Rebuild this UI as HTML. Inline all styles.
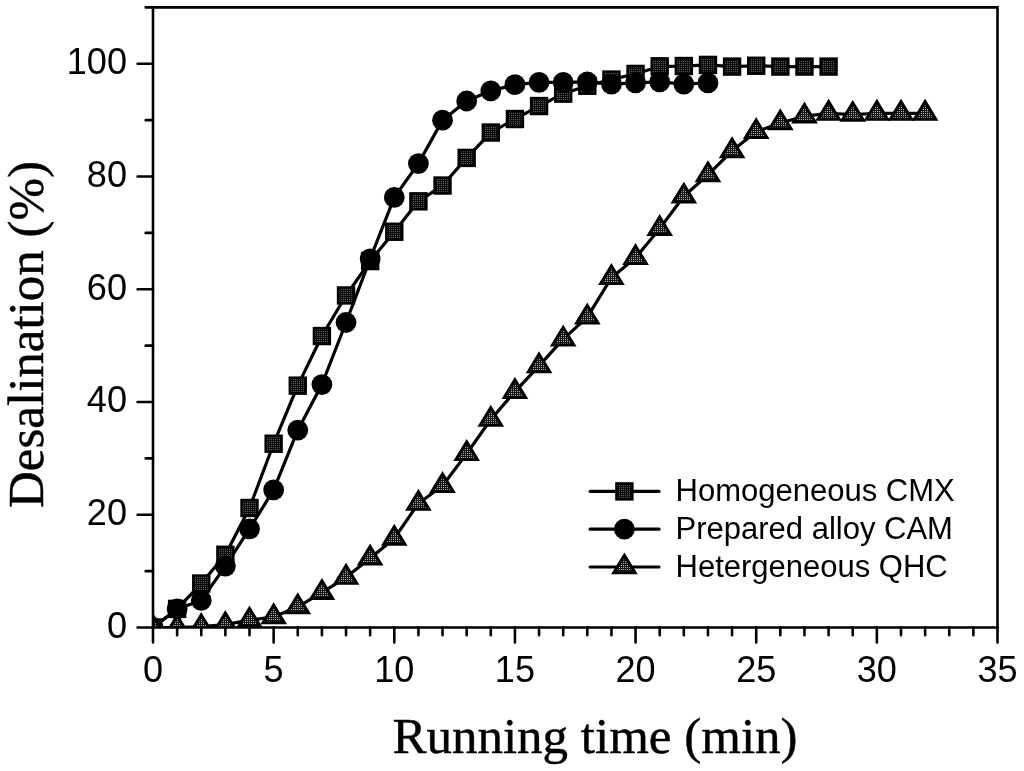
<!DOCTYPE html>
<html><head><meta charset="utf-8"><title>Desalination chart</title>
<style>
html,body{margin:0;padding:0;background:#fff;width:1024px;height:771px;overflow:hidden}
svg{display:block;will-change:transform}
text{font-family:"Liberation Sans",sans-serif;fill:#000}
.serif{font-family:"Liberation Serif",serif;stroke:#000;stroke-width:0.45px}
</style></head><body>
<svg width="1024" height="771" viewBox="0 0 1024 771">
<defs>
<pattern id="pSq" x="0" y="0" width="2" height="2" patternUnits="userSpaceOnUse">
<rect width="2" height="2" fill="#0c0c0c"/><rect x="1" y="1" width="1" height="1" fill="#5c5c5c"/>
</pattern>
<pattern id="pTr" x="0" y="0" width="2" height="2" patternUnits="userSpaceOnUse">
<rect width="2" height="2" fill="#151515"/><rect x="1" y="1" width="1" height="1" fill="#b0b0b0"/>
</pattern>
<clipPath id="plot"><rect x="153" y="7.4" width="844.5" height="620.1"/></clipPath>
</defs>
<rect width="1024" height="771" fill="#fff"/>

<path d="M137.6 627.5H153M145.7 571.13H153M137.6 514.75H153M145.7 458.38H153M137.6 402.01H153M145.7 345.64H153M137.6 289.26H153M145.7 232.89H153M137.6 176.52H153M145.7 120.15H153M137.6 63.77H153M145.7 7.4H153M153 627.5V642.5M177.13 627.5V635.3M201.26 627.5V635.3M225.39 627.5V635.3M249.51 627.5V635.3M273.64 627.5V642.5M297.77 627.5V635.3M321.9 627.5V635.3M346.03 627.5V635.3M370.16 627.5V635.3M394.29 627.5V642.5M418.41 627.5V635.3M442.54 627.5V635.3M466.67 627.5V635.3M490.8 627.5V635.3M514.93 627.5V642.5M539.06 627.5V635.3M563.19 627.5V635.3M587.31 627.5V635.3M611.44 627.5V635.3M635.57 627.5V642.5M659.7 627.5V635.3M683.83 627.5V635.3M707.96 627.5V635.3M732.09 627.5V635.3M756.21 627.5V642.5M780.34 627.5V635.3M804.47 627.5V635.3M828.6 627.5V635.3M852.73 627.5V635.3M876.86 627.5V642.5M900.99 627.5V635.3M925.11 627.5V635.3M949.24 627.5V635.3M973.37 627.5V635.3M997.5 627.5V642.5" stroke="#000" stroke-width="2.6" stroke-linecap="round" fill="none"/>
<g clip-path="url(#plot)">
<polyline points="153,627.5 177.13,608.9 201.26,583.53 225.39,554.78 249.51,507.99 273.64,443.72 297.77,385.66 321.9,336.05 346.03,295.46 370.16,261.08 394.29,231.76 418.41,201.32 442.54,185.54 466.67,157.92 490.8,132.55 514.93,119.02 539.06,106.05 563.19,93.65 587.31,85.76 611.44,79.56 635.57,73.92 659.7,66.31 683.83,66.03 707.96,64.9 732.09,66.59 756.21,65.75 780.34,66.59 804.47,66.59 828.6,66.59" fill="none" stroke="#000" stroke-width="3.2" stroke-linejoin="round"/>
<polyline points="153,627.5 177.13,627.5 201.26,626.65 225.39,624.68 249.51,620.17 273.64,616.79 297.77,606.92 321.9,592.55 346.03,577.33 370.16,558.16 394.29,538.43 418.41,503.48 442.54,485.72 466.67,453.59 490.8,419.48 514.93,391.58 539.06,365.93 563.19,339.15 587.31,317.17 611.44,277.71 635.57,257.69 659.7,228.66 683.83,196.25 707.96,174.83 732.09,150.87 756.21,131.7 780.34,122.96 804.47,116.2 828.6,113.38 852.73,114.51 876.86,113.38 900.99,113.38 925.11,113.38" fill="none" stroke="#000" stroke-width="3.2" stroke-linejoin="round"/>
<polyline points="153,627.5 177.13,608.9 201.26,600.44 225.39,566.05 249.51,528.85 273.64,489.95 297.77,430.2 321.9,384.53 346.03,322.52 370.16,258.82 394.29,197.38 418.41,163.55 442.54,120.15 466.67,100.98 490.8,90.83 514.93,84.63 539.06,82.38 563.19,82.38 587.31,81.81 611.44,84.07 635.57,82.94 659.7,81.81 683.83,84.07 707.96,82.94" fill="none" stroke="#000" stroke-width="3.2" stroke-linejoin="round"/>
<rect x="145.1" y="619.6" width="15.8" height="15.8" fill="url(#pSq)" stroke="#000" stroke-width="2.6"/>
<rect x="169.23" y="601" width="15.8" height="15.8" fill="url(#pSq)" stroke="#000" stroke-width="2.6"/>
<rect x="193.36" y="575.63" width="15.8" height="15.8" fill="url(#pSq)" stroke="#000" stroke-width="2.6"/>
<rect x="217.49" y="546.88" width="15.8" height="15.8" fill="url(#pSq)" stroke="#000" stroke-width="2.6"/>
<rect x="241.61" y="500.09" width="15.8" height="15.8" fill="url(#pSq)" stroke="#000" stroke-width="2.6"/>
<rect x="265.74" y="435.82" width="15.8" height="15.8" fill="url(#pSq)" stroke="#000" stroke-width="2.6"/>
<rect x="289.87" y="377.76" width="15.8" height="15.8" fill="url(#pSq)" stroke="#000" stroke-width="2.6"/>
<rect x="314" y="328.15" width="15.8" height="15.8" fill="url(#pSq)" stroke="#000" stroke-width="2.6"/>
<rect x="338.13" y="287.56" width="15.8" height="15.8" fill="url(#pSq)" stroke="#000" stroke-width="2.6"/>
<rect x="362.26" y="253.18" width="15.8" height="15.8" fill="url(#pSq)" stroke="#000" stroke-width="2.6"/>
<rect x="386.39" y="223.86" width="15.8" height="15.8" fill="url(#pSq)" stroke="#000" stroke-width="2.6"/>
<rect x="410.51" y="193.42" width="15.8" height="15.8" fill="url(#pSq)" stroke="#000" stroke-width="2.6"/>
<rect x="434.64" y="177.64" width="15.8" height="15.8" fill="url(#pSq)" stroke="#000" stroke-width="2.6"/>
<rect x="458.77" y="150.02" width="15.8" height="15.8" fill="url(#pSq)" stroke="#000" stroke-width="2.6"/>
<rect x="482.9" y="124.65" width="15.8" height="15.8" fill="url(#pSq)" stroke="#000" stroke-width="2.6"/>
<rect x="507.03" y="111.12" width="15.8" height="15.8" fill="url(#pSq)" stroke="#000" stroke-width="2.6"/>
<rect x="531.16" y="98.15" width="15.8" height="15.8" fill="url(#pSq)" stroke="#000" stroke-width="2.6"/>
<rect x="555.29" y="85.75" width="15.8" height="15.8" fill="url(#pSq)" stroke="#000" stroke-width="2.6"/>
<rect x="579.41" y="77.86" width="15.8" height="15.8" fill="url(#pSq)" stroke="#000" stroke-width="2.6"/>
<rect x="603.54" y="71.66" width="15.8" height="15.8" fill="url(#pSq)" stroke="#000" stroke-width="2.6"/>
<rect x="627.67" y="66.02" width="15.8" height="15.8" fill="url(#pSq)" stroke="#000" stroke-width="2.6"/>
<rect x="651.8" y="58.41" width="15.8" height="15.8" fill="url(#pSq)" stroke="#000" stroke-width="2.6"/>
<rect x="675.93" y="58.13" width="15.8" height="15.8" fill="url(#pSq)" stroke="#000" stroke-width="2.6"/>
<rect x="700.06" y="57" width="15.8" height="15.8" fill="url(#pSq)" stroke="#000" stroke-width="2.6"/>
<rect x="724.19" y="58.69" width="15.8" height="15.8" fill="url(#pSq)" stroke="#000" stroke-width="2.6"/>
<rect x="748.31" y="57.85" width="15.8" height="15.8" fill="url(#pSq)" stroke="#000" stroke-width="2.6"/>
<rect x="772.44" y="58.69" width="15.8" height="15.8" fill="url(#pSq)" stroke="#000" stroke-width="2.6"/>
<rect x="796.57" y="58.69" width="15.8" height="15.8" fill="url(#pSq)" stroke="#000" stroke-width="2.6"/>
<rect x="820.7" y="58.69" width="15.8" height="15.8" fill="url(#pSq)" stroke="#000" stroke-width="2.6"/>
<circle cx="153" cy="627.5" r="10.4" fill="#000"/>
<circle cx="177.13" cy="608.9" r="10.4" fill="#000"/>
<circle cx="201.26" cy="600.44" r="10.4" fill="#000"/>
<circle cx="225.39" cy="566.05" r="10.4" fill="#000"/>
<circle cx="249.51" cy="528.85" r="10.4" fill="#000"/>
<circle cx="273.64" cy="489.95" r="10.4" fill="#000"/>
<circle cx="297.77" cy="430.2" r="10.4" fill="#000"/>
<circle cx="321.9" cy="384.53" r="10.4" fill="#000"/>
<circle cx="346.03" cy="322.52" r="10.4" fill="#000"/>
<circle cx="370.16" cy="258.82" r="10.4" fill="#000"/>
<circle cx="394.29" cy="197.38" r="10.4" fill="#000"/>
<circle cx="418.41" cy="163.55" r="10.4" fill="#000"/>
<circle cx="442.54" cy="120.15" r="10.4" fill="#000"/>
<circle cx="466.67" cy="100.98" r="10.4" fill="#000"/>
<circle cx="490.8" cy="90.83" r="10.4" fill="#000"/>
<circle cx="514.93" cy="84.63" r="10.4" fill="#000"/>
<circle cx="539.06" cy="82.38" r="10.4" fill="#000"/>
<circle cx="563.19" cy="82.38" r="10.4" fill="#000"/>
<circle cx="587.31" cy="81.81" r="10.4" fill="#000"/>
<circle cx="611.44" cy="84.07" r="10.4" fill="#000"/>
<circle cx="635.57" cy="82.94" r="10.4" fill="#000"/>
<circle cx="659.7" cy="81.81" r="10.4" fill="#000"/>
<circle cx="683.83" cy="84.07" r="10.4" fill="#000"/>
<circle cx="707.96" cy="82.94" r="10.4" fill="#000"/>
<path d="M153 615.77L163.7 633.37L142.3 633.37Z" fill="url(#pTr)" stroke="#000" stroke-width="3.0" stroke-linejoin="miter"/>
<path d="M177.13 615.77L187.83 633.37L166.43 633.37Z" fill="url(#pTr)" stroke="#000" stroke-width="3.0" stroke-linejoin="miter"/>
<path d="M201.26 614.92L211.96 632.52L190.56 632.52Z" fill="url(#pTr)" stroke="#000" stroke-width="3.0" stroke-linejoin="miter"/>
<path d="M225.39 612.95L236.09 630.55L214.69 630.55Z" fill="url(#pTr)" stroke="#000" stroke-width="3.0" stroke-linejoin="miter"/>
<path d="M249.51 608.44L260.21 626.04L238.81 626.04Z" fill="url(#pTr)" stroke="#000" stroke-width="3.0" stroke-linejoin="miter"/>
<path d="M273.64 605.06L284.34 622.66L262.94 622.66Z" fill="url(#pTr)" stroke="#000" stroke-width="3.0" stroke-linejoin="miter"/>
<path d="M297.77 595.19L308.47 612.79L287.07 612.79Z" fill="url(#pTr)" stroke="#000" stroke-width="3.0" stroke-linejoin="miter"/>
<path d="M321.9 580.82L332.6 598.42L311.2 598.42Z" fill="url(#pTr)" stroke="#000" stroke-width="3.0" stroke-linejoin="miter"/>
<path d="M346.03 565.59L356.73 583.19L335.33 583.19Z" fill="url(#pTr)" stroke="#000" stroke-width="3.0" stroke-linejoin="miter"/>
<path d="M370.16 546.43L380.86 564.03L359.46 564.03Z" fill="url(#pTr)" stroke="#000" stroke-width="3.0" stroke-linejoin="miter"/>
<path d="M394.29 526.7L404.99 544.3L383.59 544.3Z" fill="url(#pTr)" stroke="#000" stroke-width="3.0" stroke-linejoin="miter"/>
<path d="M418.41 491.75L429.11 509.35L407.71 509.35Z" fill="url(#pTr)" stroke="#000" stroke-width="3.0" stroke-linejoin="miter"/>
<path d="M442.54 473.99L453.24 491.59L431.84 491.59Z" fill="url(#pTr)" stroke="#000" stroke-width="3.0" stroke-linejoin="miter"/>
<path d="M466.67 441.86L477.37 459.46L455.97 459.46Z" fill="url(#pTr)" stroke="#000" stroke-width="3.0" stroke-linejoin="miter"/>
<path d="M490.8 407.75L501.5 425.35L480.1 425.35Z" fill="url(#pTr)" stroke="#000" stroke-width="3.0" stroke-linejoin="miter"/>
<path d="M514.93 379.85L525.63 397.45L504.23 397.45Z" fill="url(#pTr)" stroke="#000" stroke-width="3.0" stroke-linejoin="miter"/>
<path d="M539.06 354.2L549.76 371.8L528.36 371.8Z" fill="url(#pTr)" stroke="#000" stroke-width="3.0" stroke-linejoin="miter"/>
<path d="M563.19 327.42L573.89 345.02L552.49 345.02Z" fill="url(#pTr)" stroke="#000" stroke-width="3.0" stroke-linejoin="miter"/>
<path d="M587.31 305.43L598.01 323.03L576.61 323.03Z" fill="url(#pTr)" stroke="#000" stroke-width="3.0" stroke-linejoin="miter"/>
<path d="M611.44 265.97L622.14 283.57L600.74 283.57Z" fill="url(#pTr)" stroke="#000" stroke-width="3.0" stroke-linejoin="miter"/>
<path d="M635.57 245.96L646.27 263.56L624.87 263.56Z" fill="url(#pTr)" stroke="#000" stroke-width="3.0" stroke-linejoin="miter"/>
<path d="M659.7 216.93L670.4 234.53L649 234.53Z" fill="url(#pTr)" stroke="#000" stroke-width="3.0" stroke-linejoin="miter"/>
<path d="M683.83 184.52L694.53 202.12L673.13 202.12Z" fill="url(#pTr)" stroke="#000" stroke-width="3.0" stroke-linejoin="miter"/>
<path d="M707.96 163.09L718.66 180.69L697.26 180.69Z" fill="url(#pTr)" stroke="#000" stroke-width="3.0" stroke-linejoin="miter"/>
<path d="M732.09 139.14L742.79 156.74L721.39 156.74Z" fill="url(#pTr)" stroke="#000" stroke-width="3.0" stroke-linejoin="miter"/>
<path d="M756.21 119.97L766.91 137.57L745.51 137.57Z" fill="url(#pTr)" stroke="#000" stroke-width="3.0" stroke-linejoin="miter"/>
<path d="M780.34 111.23L791.04 128.83L769.64 128.83Z" fill="url(#pTr)" stroke="#000" stroke-width="3.0" stroke-linejoin="miter"/>
<path d="M804.47 104.47L815.17 122.07L793.77 122.07Z" fill="url(#pTr)" stroke="#000" stroke-width="3.0" stroke-linejoin="miter"/>
<path d="M828.6 101.65L839.3 119.25L817.9 119.25Z" fill="url(#pTr)" stroke="#000" stroke-width="3.0" stroke-linejoin="miter"/>
<path d="M852.73 102.77L863.43 120.37L842.03 120.37Z" fill="url(#pTr)" stroke="#000" stroke-width="3.0" stroke-linejoin="miter"/>
<path d="M876.86 101.65L887.56 119.25L866.16 119.25Z" fill="url(#pTr)" stroke="#000" stroke-width="3.0" stroke-linejoin="miter"/>
<path d="M900.99 101.65L911.69 119.25L890.29 119.25Z" fill="url(#pTr)" stroke="#000" stroke-width="3.0" stroke-linejoin="miter"/>
<path d="M925.11 101.65L935.81 119.25L914.41 119.25Z" fill="url(#pTr)" stroke="#000" stroke-width="3.0" stroke-linejoin="miter"/>
</g>
<path d="M153 627.5V7.4 H997.5 V627.5 Z" fill="none" stroke="#000" stroke-width="2.6" stroke-linejoin="miter"/>
<text transform="translate(127 637.8) scale(0.965 1)" font-size="37.4" text-anchor="end">0</text>
<text transform="translate(127 525.05) scale(0.965 1)" font-size="37.4" text-anchor="end">20</text>
<text transform="translate(127 412.31) scale(0.965 1)" font-size="37.4" text-anchor="end">40</text>
<text transform="translate(127 299.56) scale(0.965 1)" font-size="37.4" text-anchor="end">60</text>
<text transform="translate(127 186.82) scale(0.965 1)" font-size="37.4" text-anchor="end">80</text>
<text transform="translate(127 74.07) scale(0.965 1)" font-size="37.4" text-anchor="end">100</text>
<text transform="translate(153 682.3) scale(0.965 1)" font-size="37.4" text-anchor="middle">0</text>
<text transform="translate(273.64 682.3) scale(0.965 1)" font-size="37.4" text-anchor="middle">5</text>
<text transform="translate(394.29 682.3) scale(0.965 1)" font-size="37.4" text-anchor="middle">10</text>
<text transform="translate(514.93 682.3) scale(0.965 1)" font-size="37.4" text-anchor="middle">15</text>
<text transform="translate(635.57 682.3) scale(0.965 1)" font-size="37.4" text-anchor="middle">20</text>
<text transform="translate(756.21 682.3) scale(0.965 1)" font-size="37.4" text-anchor="middle">25</text>
<text transform="translate(876.86 682.3) scale(0.965 1)" font-size="37.4" text-anchor="middle">30</text>
<text transform="translate(997.5 682.3) scale(0.965 1)" font-size="37.4" text-anchor="middle">35</text>
<text class="serif" x="595" y="752.5" font-size="51" text-anchor="middle">Running time (min)</text>
<text class="serif" transform="translate(42.8 334.5) rotate(-90)" x="0" y="0" font-size="51" text-anchor="middle">Desalination (%)</text>
<line x1="590.2" y1="491.4" x2="659" y2="491.4" stroke="#000" stroke-width="3.2" stroke-linecap="round"/>
<rect x="616.5" y="483.5" width="15.8" height="15.8" fill="url(#pSq)" stroke="#000" stroke-width="2.6"/>
<text x="675.5" y="501.4" font-size="31">Homogeneous CMX</text>
<line x1="590.2" y1="529.2" x2="659" y2="529.2" stroke="#000" stroke-width="3.2" stroke-linecap="round"/>
<circle cx="624.4" cy="529.2" r="10.4" fill="#000"/>
<text x="675.5" y="539.2" font-size="31">Prepared alloy CAM</text>
<line x1="590.2" y1="567" x2="659" y2="567" stroke="#000" stroke-width="3.2" stroke-linecap="round"/>
<path d="M624.4 555.27L635.1 572.87L613.7 572.87Z" fill="url(#pTr)" stroke="#000" stroke-width="3.0" stroke-linejoin="miter"/>
<text x="675.5" y="577" font-size="31">Hetergeneous QHC</text>
</svg></body></html>
